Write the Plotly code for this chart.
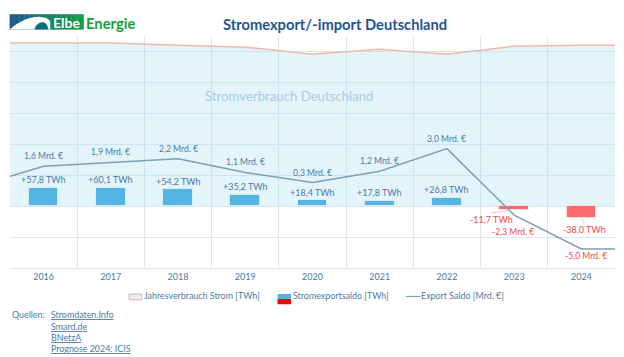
import plotly.graph_objects as go

# ---- data ----
years = [2016, 2017, 2018, 2019, 2020, 2021, 2022, 2023, 2024]
saldo_twh = [57.8, 60.1, 54.2, 35.2, 18.4, 17.8, 26.8, -11.7, -38.0]
saldo_mrd = [1.6, 1.9, 2.2, 1.1, 0.3, 1.2, 3.0, -2.3, -5.0]
verbrauch_twh = [527, 527, 520, 514, 491, 507, 491, 517, 520]
# the two lines run on to the plot edges half a category beyond the first/last year
edge_x = [2015.5, 2024.5]
verbrauch_edge = [527, 520]
saldo_mrd_edge = [0.8, -5.0]
sources = ["Stromdaten.Info", "Smard.de", "BNetzA", "Prognose 2024: ICIS"]
legend_labels = ["Jahresverbrauch Strom [TWh]", "Stromexportsaldo [TWh]", "Export Saldo [Mrd. €]"]

W, H = 624, 357
L, R, T, B = 9.7, 615.3, 35.8, 268.0
FONT = "Lato"
BLUE_TXT = "#4c7aa6"
RED_TXT = "#f4464f"
GRID = "#dfe6ea"


def px(x):
    return (x - L) / (R - L)


def py(y):
    return (B - y) / (B - T)


def rect(x0, y0, x1, y1, fill, line=None, lw=0):
    return dict(type="rect", xref="paper", yref="paper", x0=px(x0), x1=px(x1), y0=py(y1), y1=py(y0),
                fillcolor=fill, line=dict(color=line or fill, width=lw), layer="above")


def path(points, fill):
    s = ""
    for cmd, coords in points:
        s += cmd + " ".join(f"{px(a):.5f},{py(b):.5f}" for a, b in coords) + " "
    return dict(type="path", xref="paper", yref="paper", path=s + "Z", fillcolor=fill,
                line=dict(width=0), layer="above")


def seg(x0, y0, x1, y1, color, w):
    return dict(type="line", xref="paper", yref="paper", x0=px(x0), x1=px(x1), y0=py(y0), y1=py(y1),
                line=dict(color=color, width=w), layer="above")


def txt(x, y, s, size, color, anchor="left", bold=False):
    return dict(xref="paper", yref="paper", x=px(x), y=py(y), text=f"<b>{s}</b>" if bold else s,
                showarrow=False, xanchor=anchor, yanchor="middle",
                font=dict(family=FONT, size=size, color=color))


fig = go.Figure()
fig.add_trace(go.Scatter(x=[edge_x[0]] + years + [edge_x[1]],
                         y=[verbrauch_edge[0]] + verbrauch_twh + [verbrauch_edge[1]],
                         mode="lines", fill="tozeroy", fillcolor="rgba(170,220,244,0.32)",
                         line=dict(color="#efb9a6", width=1.5), name=legend_labels[0], showlegend=False))
fig.add_trace(go.Bar(x=years, y=saldo_twh, width=0.44, yaxis="y2",
                     marker=dict(color=["#54b5e4" if v >= 0 else "#ff6b6e" for v in saldo_twh],
                                 line=dict(color="rgba(255,255,255,0.6)", width=1)),
                     name=legend_labels[1], showlegend=False))
fig.add_trace(go.Scatter(x=[edge_x[0]] + years + [edge_x[1]],
                         y=[saldo_mrd_edge[0]] + saldo_mrd + [saldo_mrd_edge[1]],
                         mode="lines", yaxis="y3", line=dict(color="#7d9fb3", width=1.5),
                         name=legend_labels[2], showlegend=False))

annotations = []
for yr, v in zip(years, saldo_twh):
    s = f"{v:+.1f}".replace(".", ",") + " TWh"
    if v >= 0:
        annotations.append(dict(x=yr, y=v, xref="x", yref="y", text=s, showarrow=False, yshift=8.3,
                                yanchor="middle", font=dict(family=FONT, size=9, color=BLUE_TXT)))
    else:
        xs, ys = (-23, -9.5) if yr == 2023 else (3, -12)
        annotations.append(dict(x=yr, y=v, xref="x", yref="y", text=s, showarrow=False, xshift=xs, yshift=ys,
                                yanchor="middle", font=dict(family=FONT, size=9, color=RED_TXT)))
for yr, v in zip(years, saldo_mrd):
    s = f"{v:.1f}".replace(".", ",") + " Mrd. €"
    if v >= 0:
        annotations.append(dict(x=yr, y=v, xref="x", yref="y3", text=s, showarrow=False, yshift=10,
                                yanchor="middle", font=dict(family=FONT, size=8.6, color=BLUE_TXT)))
    else:
        xs, ys = (-1, -16.7) if yr == 2023 else (5, -7)
        annotations.append(dict(x=yr, y=v, xref="x", yref="y3", text=s, showarrow=False, xshift=xs, yshift=ys,
                                yanchor="middle", font=dict(family=FONT, size=8.6, color=RED_TXT)))

annotations += [
    txt(335, 23.5, "Stromexport/-import Deutschland", 14.7, "#1f5592", "center", True),
    txt(289, 96, "Stromverbrauch Deutschland", 13.2, "#a9cbe4", "center"),
    txt(50.5, 22.3, "Elbe", 14, "#ffffff", "left", True),
    txt(83.3, 22.8, "Energie", 14.8, "#12a33b", "left", True),
    txt(141.5, 296, legend_labels[0], 8.9, BLUE_TXT),
    txt(290.5, 296, legend_labels[1], 8.9, BLUE_TXT),
    txt(419, 296, legend_labels[2], 8.9, BLUE_TXT),
    txt(9.5, 315, "Quellen:", 8.9, BLUE_TXT),
]
for i, s in enumerate(sources):
    annotations.append(txt(48.8, 315 + i * 11.1, f"<u>{s}</u>", 8.9, BLUE_TXT))

shapes = []
# logo: colour run from blue to green
n = 30
c0, c1 = (27, 88, 140), (14, 158, 70)
for i in range(n):
    t = i / (n - 1)
    col = "rgb(%d,%d,%d)" % tuple(round(a + (b - a) * t) for a, b in zip(c0, c1))
    shapes.append(rect(9.3 + 74 * i / n, 14, 9.3 + 74 * (i + 1) / n + 0.3, 29.4, col))
shapes.append(path([("M", [(9.3, 29.4)]), ("C", [(20, 20), (32, 16), (40, 16.7)]),
                    ("C", [(46, 17), (50, 19), (50, 22)]), ("L", [(50, 29.4)])], "#ffffff"))
shapes.append(path([("M", [(34, 29.4)]), ("C", [(35, 25), (39, 21.5), (43, 22)]),
                    ("C", [(46, 22.5), (48, 26), (48, 29.4)])], "#0d6f7c"))
# legend keys
shapes.append(rect(129, 294.2, 141.5, 299.8, "#e0f2fb", "#eda98f", 1))
shapes.append(rect(277.5, 294, 291, 299, "#54b5e4"))
shapes.append(rect(277.5, 299, 291, 304.3, "#f8000a"))
shapes.append(seg(406, 296.5, 420.5, 296.5, "#7d9fb3", 1.2))
# leader lines of the two negative labels
shapes.append(seg(491, 213, 508.7, 210.3, "#cfcfcf", 1))
shapes.append(seg(582, 218.7, 584.7, 223.7, "#cfcfcf", 1))

fig.update_layout(
    width=W, height=H, autosize=False,
    margin=dict(l=L, r=W - R, t=T, b=H - B, pad=0),
    paper_bgcolor="white", plot_bgcolor="white", showlegend=False,
    xaxis=dict(range=[2015.5, 2024.5], tickmode="array", tickvals=years, ticktext=[str(y) for y in years],
               showgrid=False, zeroline=False, ticks="", showline=True, linecolor=GRID, linewidth=1,
               tickfont=dict(family=FONT, size=9, color=BLUE_TXT),
               minor=dict(tickmode="linear", tick0=2015.5, dtick=1, showgrid=True, gridcolor=GRID, gridwidth=1, ticks="")),
    yaxis=dict(range=[-200, 550], tick0=-200, dtick=100, showticklabels=False, showgrid=True, gridcolor=GRID,
               gridwidth=1, zeroline=True, zerolinecolor=GRID, zerolinewidth=1, ticks=""),
    yaxis2=dict(range=[-200, 550], overlaying="y", showgrid=False, zeroline=False,
                showticklabels=False, ticks=""),
    yaxis3=dict(range=[-6.51, 11.97], overlaying="y", side="right", showgrid=False, zeroline=False,
                showticklabels=False, ticks=""),
    annotations=annotations, shapes=shapes, bargap=0,
)
fig.write_html("out.html", config=dict(displayModeBar=False),
               post_script="document.body.style.margin='0';document.documentElement.style.overflow='hidden';")
